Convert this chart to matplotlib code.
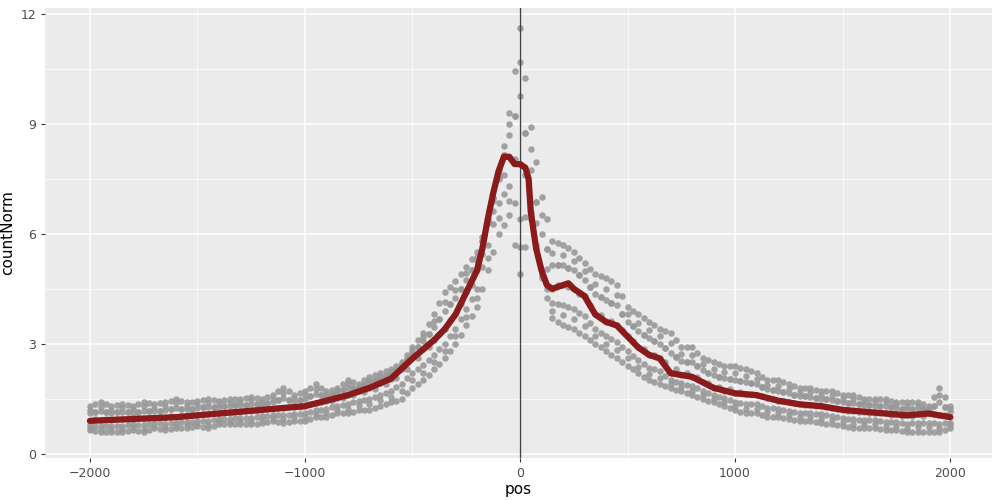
import matplotlib
matplotlib.use("Agg")
import matplotlib.pyplot as plt
import numpy as np

# smoothed trend
line_pos = [-2000, -1800, -1600, -1400, -1200, -1000, -900, -800, -700, -600, -500, -400, -350,
            -300, -250, -200, -175, -150, -125, -100, -75, -50, -25, 0, 25, 40, 50, 75, 100,
            125, 150, 200, 225, 250, 300, 350, 400, 450, 500, 550, 600, 650, 700, 750, 800,
            900, 1000, 1100, 1200, 1300, 1400, 1500, 1600, 1700, 1800, 1900, 2000]
line_val = [0.9, 0.95, 1.0, 1.1, 1.2, 1.3, 1.45, 1.6, 1.8, 2.05, 2.6, 3.1, 3.4,
            3.8, 4.4, 5.0, 5.6, 6.4, 7.1, 7.7, 8.1, 8.1, 7.9, 7.9, 7.8, 7.5, 6.6, 5.6, 5.0,
            4.6, 4.5, 4.6, 4.65, 4.5, 4.3, 3.8, 3.6, 3.5, 3.2, 2.9, 2.7, 2.6, 2.2, 2.15, 2.1,
            1.8, 1.65, 1.6, 1.45, 1.35, 1.3, 1.2, 1.15, 1.1, 1.05, 1.1, 1.0]

# raw points: upper and lower readings every 50 bp (-2000 .. 2000)
pt_pos = list(range(-2000, 2001, 50))
pt_hi = [1.3, 1.4, 1.3, 1.35, 1.3, 1.4, 1.35, 1.4, 1.5, 1.4,
         1.45, 1.5, 1.45, 1.5, 1.5, 1.55, 1.5, 1.6, 1.8, 1.6,
         1.7, 1.9, 1.7, 1.8, 2.0, 1.9, 2.1, 2.2, 2.3, 2.5,
         2.9, 3.3, 3.8, 4.4, 4.7, 5.1, 5.5, 6.3, 7.5, 9.3,
         11.6, 8.9, 7.0, 5.8, 5.7, 5.5, 5.2, 4.9, 4.8, 4.6,
         4.0, 3.8, 3.6, 3.4, 3.3, 2.9, 2.9, 2.6, 2.5, 2.4,
         2.4, 2.3, 2.2, 2.0, 2.0, 1.9, 1.8, 1.8, 1.7, 1.7,
         1.6, 1.6, 1.5, 1.5, 1.5, 1.4, 1.4, 1.4, 1.3, 1.8,
         1.3]
pt_lo = [0.65, 0.6, 0.6, 0.6, 0.65, 0.6, 0.7, 0.65, 0.7, 0.7,
         0.75, 0.7, 0.8, 0.8, 0.8, 0.8, 0.85, 0.9, 0.85, 0.9,
         0.9, 1.0, 1.0, 1.1, 1.1, 1.2, 1.2, 1.3, 1.4, 1.5,
         1.8, 2.0, 2.3, 2.6, 3.0, 3.5, 4.0, 5.0, 6.0, 6.5,
         4.9, 6.4, 4.8, 3.7, 3.5, 3.4, 3.2, 3.0, 2.8, 2.6,
         2.4, 2.2, 2.0, 1.9, 1.8, 1.7, 1.6, 1.5, 1.4, 1.3,
         1.2, 1.1, 1.1, 1.0, 1.0, 0.95, 0.9, 0.9, 0.85, 0.8,
         0.75, 0.7, 0.7, 0.7, 0.65, 0.65, 0.6, 0.6, 0.6, 0.6,
         0.7]

fig, ax = plt.subplots(figsize=(10, 5), dpi=100)
fig.subplots_adjust(left=0.045, right=0.992, top=0.985, bottom=0.085)
ax.set_facecolor("#EBEBEB")
ax.grid(True, which="major", color="white", linewidth=1.1)
ax.grid(True, which="minor", color="white", linewidth=0.5)
ax.set_axisbelow(True)
for s in ax.spines.values():
    s.set_visible(False)

lp = np.array(line_pos)
lv = np.array(line_val)
pp = np.array(pt_pos)
hi = np.array(pt_hi)
lo = np.array(pt_lo)
mid = np.interp(pp, lp, lv)
rows = [hi, lo, (hi + mid) / 2, (lo + mid) / 2, mid, (3 * hi + mid) / 4, (3 * lo + mid) / 4]
for arr in rows:
    ax.scatter(pp, arr, s=22, color="#999999", alpha=0.9, linewidths=0, zorder=2)
half = pp[:-1] + 25
for a, b in [(hi, mid), (lo, mid), ((hi + mid) / 2, (lo + mid) / 2)]:
    ax.scatter(half, (a[:-1] + a[1:] + b[:-1] + b[1:]) / 4, s=22, color="#999999",
               alpha=0.9, linewidths=0, zorder=2)
    ax.scatter(half, (a[:-1] + a[1:]) / 2, s=22, color="#999999",
               alpha=0.9, linewidths=0, zorder=2)

ax.axvline(0, color="#444444", linewidth=1, zorder=3)
ax.plot(line_pos, line_val, color="#8B1A1A", linewidth=4.5, zorder=4, solid_capstyle="round")

ax.set_xlim(-2209, 2195)
ax.set_ylim(-0.1, 12.17)
ax.set_xticks([-2000, -1000, 0, 1000, 2000])
ax.set_xticks([-1500, -500, 500, 1500], minor=True)
ax.set_yticks([0, 3, 6, 9, 12])
ax.set_yticks([1.5, 4.5, 7.5, 10.5], minor=True)
ax.tick_params(which="major", colors="#333333", labelcolor="#4D4D4D", labelsize=9, length=3)
ax.tick_params(which="minor", length=0)
ax.set_xlabel("pos", fontsize=11, labelpad=2)
ax.set_ylabel("countNorm", fontsize=11, labelpad=4)

fig.savefig("out.png")
